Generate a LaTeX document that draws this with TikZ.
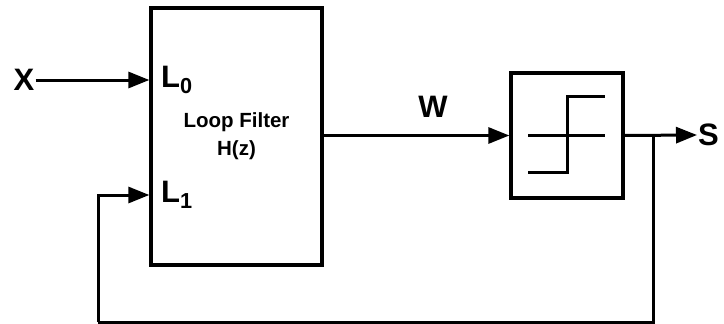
\documentclass[tikz,border=0pt]{standalone}
\usepackage{fontspec}
\setmainfont{Liberation Sans}
\usetikzlibrary{arrows.meta, positioning}

\tikzset{
  block/.style={draw, rectangle, line width=3.3pt, inner sep=0pt},
  wire/.style={line width=3pt},
  sig/.style={wire, -{Triangle[length=21pt, width=16pt]}},
  biglabel/.style={font=\bfseries\fontsize{31}{31}\selectfont, inner sep=1pt},
}

\begin{document}
\begin{tikzpicture}[x=1pt, y=-1pt]
  \useasboundingbox (0,0) rectangle (724,324);

  % blocks
  \node[block, minimum width=171pt, minimum height=257pt, align=center,
        font=\bfseries\fontsize{20.5}{28}\selectfont] (lf) at (236.5,136.5) {Loop Filter\\H(z)};
  \node[block, minimum width=112pt, minimum height=125pt] (quant) at (567,135.5) {};

  % quantizer characteristic
  \draw[wire] ([xshift=-39pt]quant.center) -- ([xshift=38pt]quant.center);
  \draw[wire] ([xshift=-39pt, yshift=-37pt]quant.center) -| ([yshift=39pt]quant.center)
        -- ([xshift=38pt, yshift=39pt]quant.center);

  % labels
  \node[biglabel] (x) at (24,80) {X};
  \node[biglabel, anchor=west] (l0) at (160,80) {L\textsubscript{0}};
  \node[biglabel, anchor=west] (l1) at (160,195) {L\textsubscript{1}};
  \node[biglabel] (w) at (433,107) {W};
  \node[biglabel, anchor=west] (s) at (697,135) {S};

  % signal path
  \draw[sig] (x.east) -- (lf.west |- x);
  \draw[sig] (lf.east |- quant) -- (quant.west);
  \draw[sig] (quant.east) -- (s.west);

  % feedback
  \coordinate (tap) at (653,135);
  \coordinate (fb) at (98,322);
  \draw[wire] (tap) |- (fb);
  \draw[sig] (fb) |- (lf.west |- l1);
\end{tikzpicture}
\end{document}
